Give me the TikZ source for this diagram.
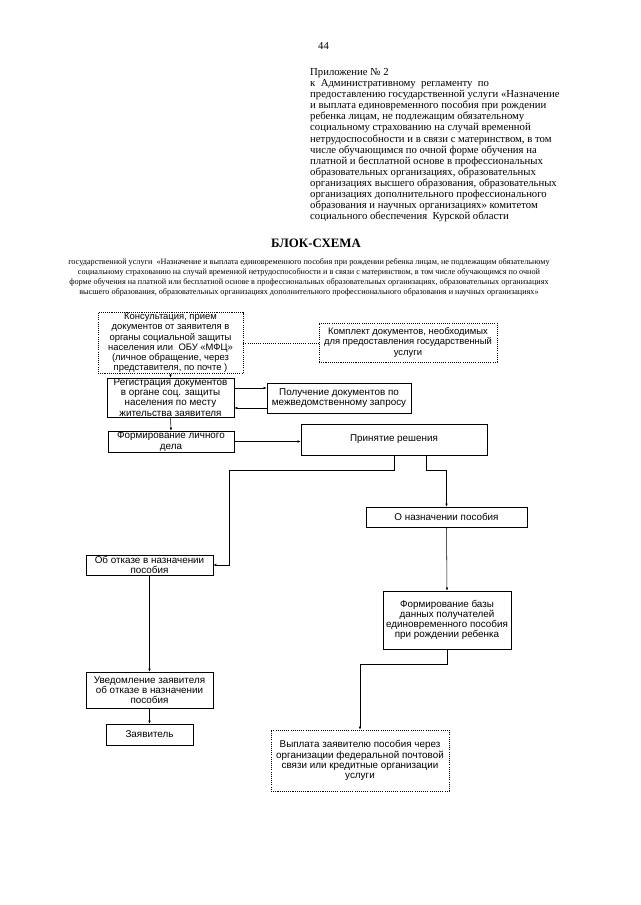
\documentclass[tikz,border=0pt]{standalone}
\usepackage{fontspec}
\setmainfont{Liberation Serif}
\newfontfamily\boxfont{Liberation Sans}
\usetikzlibrary{arrows.meta,calc}
\begin{document}
\begin{tikzpicture}[x=0.0328125cm,y=-0.0328125cm,
  sz/.style 2 args={minimum width=#1*0.0328125cm, minimum height=#2*0.0328125cm},
  box/.style={draw, line width=0.5pt, rectangle, inner sep=0.5pt, align=center, font=\boxfont\fontsize{9.2}{9.5}\selectfont},
  dbox/.style={box, dash pattern=on 1pt off 1pt},
  arr/.style={draw, line width=0.5pt, -{Latex[length=3pt,width=2.4pt]}},
  ln/.style={draw, line width=0.5pt},
  dln/.style={draw, line width=0.5pt, dash pattern=on 1pt off 1pt}]
\useasboundingbox[fill=white] (0,0) rectangle (640,905);

% header
\node[font=\fontsize{10}{12}\selectfont, anchor=base] (pg) at (323.5,50) {44};
\node[anchor=north west, align=left, inner sep=0, font=\fontsize{10}{10.3}\selectfont] (hdr) at (310,68.5) {%
Приложение № 2\\
к \ Административному \ регламенту \ по\\
предоставлению государственной услуги «Назначение\\
и выплата единовременного пособия при рождении\\
ребенка лицам, не подлежащим обязательному\\
социальному страхованию на случай временной\\
нетрудоспособности и в связи с материнством, в том\\
числе обучающимся по очной форме обучения на\\
платной и бесплатной основе в профессиональных\\
образовательных организациях, образовательных\\
организациях высшего образования, образовательных\\
организациях дополнительного профессионального\\
образования и научных организациях» комитетом\\
социального обеспечения \ Курской области};

\node[font=\bfseries\fontsize{12}{14}\selectfont, anchor=base] (title) at (316,247) {БЛОК-СХЕМА};
\node[anchor=north, align=center, inner sep=0, font=\fontsize{7.65}{9.6}\selectfont] (sub) at (309,258) {%
государственной услуги \ «Назначение и выплата единовременного пособия при рождении ребенка лицам, не подлежащим обязательному\\
социальному страхованию на случай временной нетрудоспособности и в связи с материнством, в том числе обучающимся по очной\\
форме обучения на платной или бесплатной основе в профессиональных образовательных организациях, образовательных организациях\\
высшего образования, образовательных организациях дополнительного профессионального образования и научных организациях»};

% boxes
\node[dbox, sz={145}{60}, font=\boxfont\fontsize{8.8}{9.6}\selectfont] (kons) at (170.5,343) {Консультация, прием\\документов от заявителя в\\органы социальной защиты\\населения или \ ОБУ «МФЦ»\\(личное обращение, через\\представителя, по почте )};
\node[dbox, sz={178}{39}, font=\boxfont\fontsize{8.8}{9.4}\selectfont] (kompl) at (408,342.5) {Комплект документов, необходимых\\для предоставления государственный\\услуги};
\node[box, sz={127}{39}] (reg) at (170.5,397.5) {Регистрация документов\\в органе соц. защиты\\населения по месту\\жительства заявителя};
\node[box, sz={144}{30}] (pol) at (339,398) {Получение документов по\\межведомственному запросу};
\node[box, sz={126}{21}] (form) at (171,441.5) {Формирование личного\\дела};
\node[box, sz={186}{31}] (prin) at (394,439.5) {Принятие решения};
\node[box, sz={161}{20}] (naz) at (446.5,517) {О назначении пособия};
\node[box, sz={127}{20}] (otk) at (149.5,565) {Об отказе в назначении\\пособия};
\node[box, sz={128}{58}] (baza) at (447,620) {Формирование базы\\данных получателей\\единовременного пособия\\при рождении ребенка};
\node[box, sz={127}{36}] (uved) at (149.5,690) {Уведомление заявителя\\об отказе в назначении\\пособия};
\node[box, sz={87}{21}] (zay) at (149.5,734.5) {Заявитель};
\node[dbox, sz={178}{61}] (vyp) at (360,760.5) {Выплата заявителю пособия через\\организации федеральной почтовой\\связи или кредитные организации\\услуги};

% connectors
\coordinate (c1) at (229,470);
\coordinate (c2) at (426,470);
\coordinate (r1) at ($(reg.east)+(0,-9.5)$);
\coordinate (r2) at ($(pol.west)+(0,10)$);
\draw[dln] (kons.east) -- (kons.east -| kompl.west);
\draw[arr] (kons.south) -- (reg.north);
\draw[arr] (r1) -- (r1 -| pol.west);
\draw[arr] (r2) -- (r2 -| reg.east);
\draw[arr] (reg.south) -- (form.north);
\draw[arr] (form.east) -- (form.east -| prin.west);
\draw[arr] (prin.south) |- (c1) |- (otk.east);
\draw[arr] (prin.south -| c2) -- (c2) -| (naz.north);
\draw[arr] (naz.south) -- (baza.north);
\draw[arr] (otk.south) -- (uved.north);
\draw[arr] (uved.south) -- (zay.north);
\draw[arr] (baza.south) -- ++(0,15) -| (vyp.north);
\end{tikzpicture}
\end{document}
